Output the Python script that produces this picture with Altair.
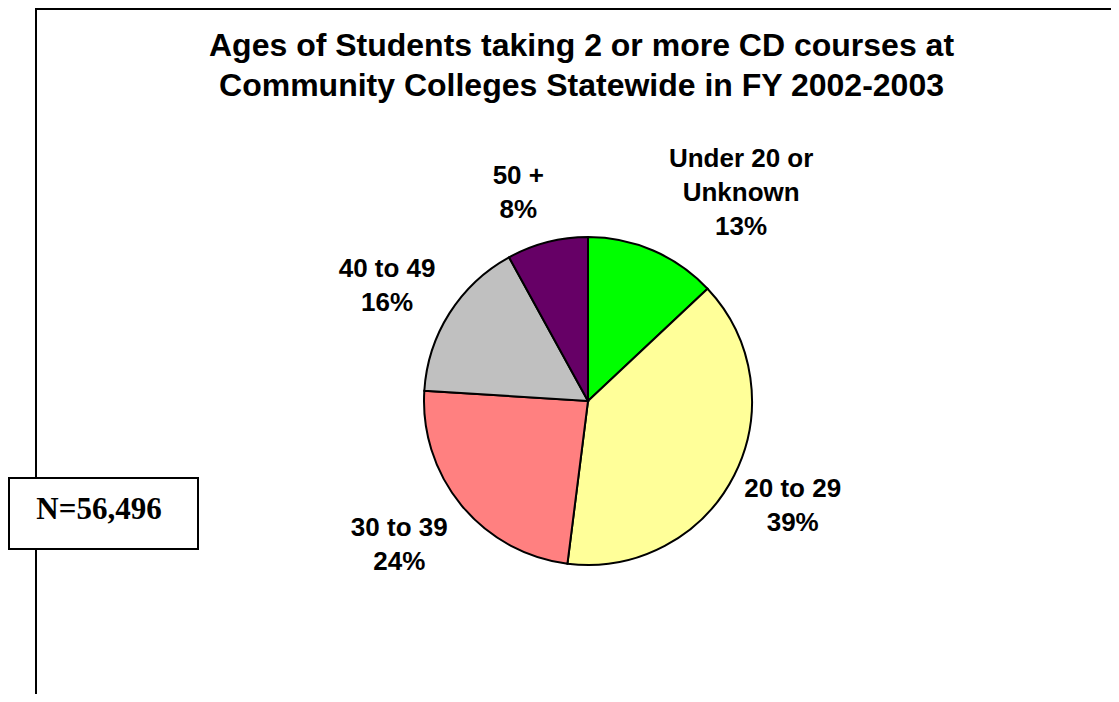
import altair as alt
import pandas as pd

# ---- data ----
categories = ["Under 20 or Unknown", "20 to 29", "30 to 39", "40 to 49", "50 +"]
label_lines = ["Under 20 or\nUnknown", "20 to 29", "30 to 39", "40 to 49", "50 +"]
percents = [13, 39, 24, 16, 8]
colors = ["#00FF00", "#FFFF99", "#FF8080", "#C0C0C0", "#660066"]
title_lines = ["Ages of Students taking 2 or more CD courses at",
               "Community Colleges Statewide in FY 2002-2003"]
n_text = "N=56,496"

df = pd.DataFrame({
    "idx": list(range(len(categories))),
    "category": categories,
    "value": percents,
    "label": [f"{l}\n{p}%" for l, p in zip(label_lines, percents)],
})

W, H = 1103, 686
CX, CY, R = 580, 393, 164
LABEL_R = 232
LH = 34
FONT = "Liberation Sans"

theta = alt.Theta("value:Q", stack=True)
order = alt.Order("idx:Q", sort="ascending")
color = alt.Color("category:N", scale=alt.Scale(domain=categories, range=colors), legend=None)

pie = alt.Chart(df).mark_arc(radius=R, stroke="black", strokeWidth=2).encode(
    theta=theta, order=order, color=color,
    x=alt.value(CX), y=alt.value(CY),
)

# label nudges (Excel places labels outside the slice); vertical centring of multi-line blocks
nudges = {0: (61, 5), 1: (-2, 0), 2: (-10, -4), 3: (-5, 9), 4: (-12, 17)}
label_layers = []
for i, (ddx, ddy) in nudges.items():
    n_lines = df.loc[i, "label"].count("\n") + 1
    label_layers.append(
        alt.Chart(df).mark_text(
            radius=LABEL_R, font=FONT, fontWeight="bold", fontSize=26,
            lineBreak="\n", lineHeight=LH, baseline="middle", align="center",
            color="black", dx=ddx, dy=ddy - (n_lines - 1) * LH / 2,
        ).encode(
            theta=theta, order=order, text="label:N",
            x=alt.value(CX), y=alt.value(CY),
            opacity=alt.condition(alt.datum.idx == i, alt.value(1), alt.value(0)),
        )
    )

one = pd.DataFrame({"t": ["\n".join(title_lines)]})
title = alt.Chart(one).mark_text(
    font=FONT, fontWeight="bold", fontSize=32, lineBreak="\n", lineHeight=40,
    baseline="alphabetic", align="center", color="black",
).encode(text="t:N", x=alt.value(573.5), y=alt.value(48))

frame_left = alt.Chart(one).mark_rule(color="black", strokeWidth=2).encode(
    x=alt.value(28), y=alt.value(0), y2=alt.value(H))
frame_top = alt.Chart(one).mark_rule(color="black", strokeWidth=2).encode(
    x=alt.value(28), x2=alt.value(W), y=alt.value(1))

nbox = alt.Chart(one).mark_rect(fill="white", stroke="black", strokeWidth=2).encode(
    x=alt.value(1), x2=alt.value(190), y=alt.value(470), y2=alt.value(541))
ntext = alt.Chart(pd.DataFrame({"t": [n_text]})).mark_text(
    font="Liberation Serif", fontWeight="bold", fontSize=31,
    baseline="alphabetic", align="center", color="black",
).encode(text="t:N", x=alt.value(91), y=alt.value(511))

chart = alt.layer(frame_left, frame_top, nbox, ntext, title, pie, *label_layers).properties(
    width=W, height=H, padding=0, autosize=alt.AutoSizeParams(type="none"),
    background="white",
).configure_view(strokeWidth=0)

chart.save("out.html", embed_options={"renderer": "svg", "actions": False})
